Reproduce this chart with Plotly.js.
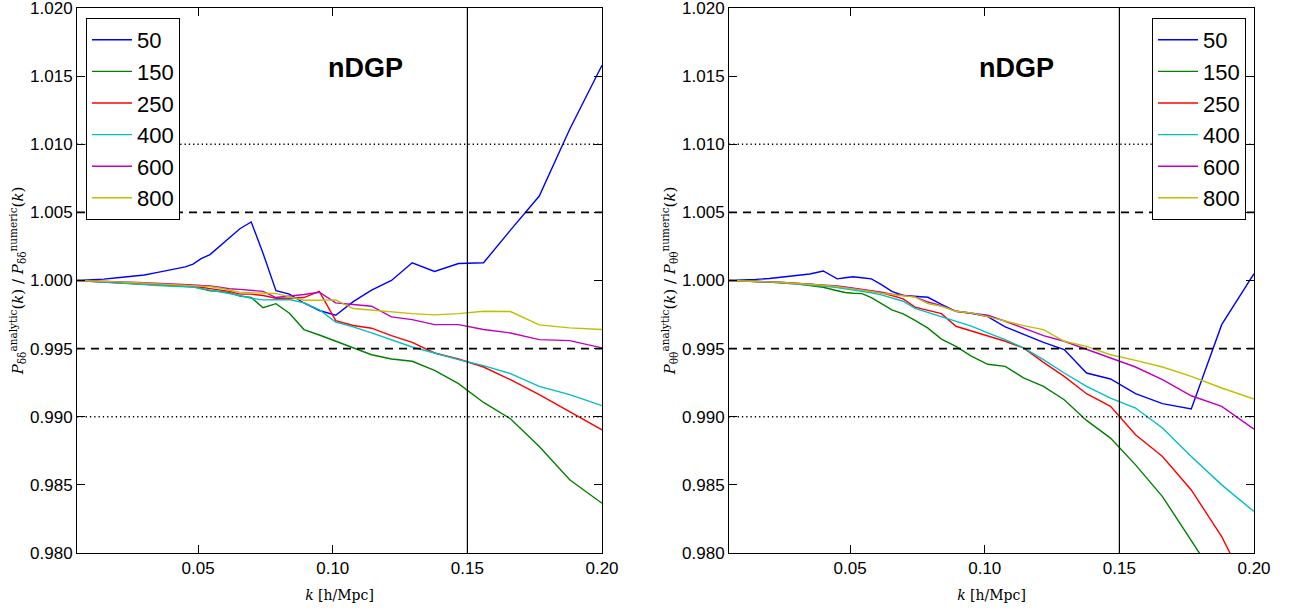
<!DOCTYPE html>
<html>
<head>
<meta charset="utf-8">
<script src="https://cdn.plot.ly/plotly-3.0.1.min.js"></script>
<style>html,body{margin:0;padding:0;background:#fff;}#chart{width:1297px;height:615px;}</style>
</head>
<body>
<div id="chart"></div>
<script>
// k grid [h/Mpc]
const kValues = [0.005, 0.010, 0.015, 0.020, 0.025, 0.030, 0.035, 0.040, 0.0452, 0.0481, 0.0511, 0.0544, 0.0579, 0.0616, 0.0655, 0.0697, 0.0741, 0.0789, 0.0839, 0.0893, 0.0950, 0.1011, 0.1076, 0.1144, 0.1218, 0.1295, 0.1378, 0.1467, 0.1560, 0.1660, 0.1767, 0.1880, 0.2000];

const seriesNames = ["50", "150", "250", "400", "600", "800"];
const seriesColors = ["#0000ff", "#008000", "#ff0000", "#00bfbf", "#bf00bf", "#bfbf00"];

// Left panel: P_dd analytic / numeric
const dd50  = [1.0, 1.00004, 1.0001, 1.0002, 1.0003, 1.0004, 1.0006, 1.0008, 1.0010, 1.0012, 1.0016, 1.0019, 1.0025, 1.0032, 1.0038, 1.0043, 1.0020, 0.99925, 0.9990, 0.99835, 0.9978, 0.99745, 0.99845, 0.9993, 1.0000, 1.0013, 1.00066, 1.00125, 1.0013, 1.0037, 1.0062, 1.0111, 1.0158];
const dd150 = [1.0, 0.99995, 0.9999, 0.99985, 0.9998, 0.99975, 0.9997, 0.99965, 0.9996, 0.99955, 0.9994, 0.99925, 0.9992, 0.9991, 0.99885, 0.99875, 0.9980, 0.9983, 0.9976, 0.9964, 0.9960, 0.99555, 0.9951, 0.99455, 0.99424, 0.99407, 0.9934, 0.99243, 0.99105, 0.98985, 0.98782, 0.98537, 0.98365];
const dd250 = [1.0, 0.99995, 0.9999, 0.99985, 0.9998, 0.99975, 0.9997, 0.99965, 0.9996, 0.99958, 0.9995, 0.9994, 0.9993, 0.9992, 0.9990, 0.9990, 0.9989, 0.9987, 0.9987, 0.99875, 0.9992, 0.99705, 0.9967, 0.9965, 0.99596, 0.99546, 0.99468, 0.99424, 0.99365, 0.99272, 0.99162, 0.99039, 0.98904];
const dd400 = [1.0, 0.99995, 0.9999, 0.99985, 0.99978, 0.9997, 0.99963, 0.99958, 0.99955, 0.99952, 0.9994, 0.9993, 0.9992, 0.99905, 0.9989, 0.9987, 0.99858, 0.99858, 0.9986, 0.99836, 0.99785, 0.99695, 0.9966, 0.99615, 0.99566, 0.99512, 0.99468, 0.99419, 0.99375, 0.99316, 0.99223, 0.99162, 0.99081];
const dd600 = [1.0, 0.99998, 0.99995, 0.9999, 0.99987, 0.99983, 0.9998, 0.99976, 0.9997, 0.99968, 0.99963, 0.9996, 0.9995, 0.9994, 0.99935, 0.9993, 0.9992, 0.99875, 0.99885, 0.99897, 0.99914, 0.99836, 0.99824, 0.99811, 0.99733, 0.99713, 0.99676, 0.99676, 0.9964, 0.99615, 0.99566, 0.99559, 0.99505];
const dd800 = [1.0, 0.99998, 0.99995, 0.9999, 0.99985, 0.9998, 0.99975, 0.9997, 0.99965, 0.99962, 0.9996, 0.99955, 0.99945, 0.9993, 0.99915, 0.9991, 0.9991, 0.99905, 0.9988, 0.99855, 0.99855, 0.99858, 0.99794, 0.99782, 0.99767, 0.99757, 0.99748, 0.99757, 0.99774, 0.99772, 0.99674, 0.99652, 0.9964];

// Right panel: P_tt analytic / numeric
const tt50  = [1.0, 1.00003, 1.00008, 1.00015, 1.00025, 1.00035, 1.00048, 1.0007, 1.00012, 1.0002, 1.00027, 1.0002, 1.00012, 0.9997, 0.9992, 0.9989, 0.99883, 0.99877, 0.99824, 0.99774, 0.9976, 0.99735, 0.9966, 0.99603, 0.99546, 0.99493, 0.99321, 0.99277, 0.99169, 0.99096, 0.99057, 0.99676, 1.0005];
const tt150 = [1.0, 0.99998, 0.99993, 0.99988, 0.99982, 0.99975, 0.99962, 0.9995, 0.99925, 0.99912, 0.99906, 0.99904, 0.99875, 0.9983, 0.99785, 0.99755, 0.99708, 0.9965, 0.9957, 0.99517, 0.99445, 0.99385, 0.9937, 0.99285, 0.99223, 0.99125, 0.98973, 0.98843, 0.98647, 0.98414, 0.98087, 0.9775, 0.9735];
const tt250 = [1.0, 0.99998, 0.99995, 0.9999, 0.99985, 0.9998, 0.99972, 0.99963, 0.99955, 0.99948, 0.9994, 0.99932, 0.99922, 0.9991, 0.9989, 0.99865, 0.99805, 0.9978, 0.99757, 0.99664, 0.9963, 0.99595, 0.99554, 0.99505, 0.99399, 0.99296, 0.99169, 0.99076, 0.98868, 0.98708, 0.98463, 0.9812, 0.9765];
const tt400 = [1.0, 0.99998, 0.99994, 0.99988, 0.99982, 0.99975, 0.99968, 0.9996, 0.99948, 0.9994, 0.9993, 0.99922, 0.9991, 0.99895, 0.99875, 0.99848, 0.99795, 0.99765, 0.99738, 0.99701, 0.99665, 0.99615, 0.99566, 0.99505, 0.99419, 0.99321, 0.99223, 0.99137, 0.99064, 0.98917, 0.98708, 0.985, 0.98304];
const tt600 = [1.0, 0.99998, 0.99995, 0.9999, 0.99985, 0.9998, 0.99974, 0.99968, 0.9996, 0.99952, 0.99945, 0.99936, 0.99926, 0.99914, 0.999, 0.99893, 0.9988, 0.99842, 0.99815, 0.99774, 0.99762, 0.99745, 0.99701, 0.99652, 0.99596, 0.99554, 0.99493, 0.99432, 0.99365, 0.99272, 0.99154, 0.99076, 0.98909];
const tt800 = [1.0, 0.99998, 0.99994, 0.9999, 0.99985, 0.99979, 0.99972, 0.99965, 0.99955, 0.99948, 0.9994, 0.99932, 0.9992, 0.99906, 0.99897, 0.9989, 0.99878, 0.99831, 0.99811, 0.99774, 0.99762, 0.99735, 0.99703, 0.99669, 0.9964, 0.99554, 0.99517, 0.99455, 0.99414, 0.99365, 0.99296, 0.99211, 0.9913];

const ddSeries = [dd50, dd150, dd250, dd400, dd600, dd800];
const ttSeries = [tt50, tt150, tt250, tt400, tt600, tt800];

const xTickVals = [0.05, 0.10, 0.15, 0.20];
const yTickVals = [0.980, 0.985, 0.990, 0.995, 1.000, 1.005, 1.010, 1.015, 1.020];
const panelLabel = "nDGP";
const kCut = 0.15;
const dashedLevels = [1.005, 0.995];
const dottedLevels = [1.010, 0.990];

const traces = [];
ddSeries.forEach((ys, i) => {
  traces.push({x: kValues, y: ys, type: 'scatter', mode: 'lines', name: seriesNames[i],
    line: {color: seriesColors[i], width: 1.4}, xaxis: 'x', yaxis: 'y', legend: 'legend'});
});
ttSeries.forEach((ys, i) => {
  traces.push({x: kValues, y: ys, type: 'scatter', mode: 'lines', name: seriesNames[i],
    line: {color: seriesColors[i], width: 1.4}, xaxis: 'x2', yaxis: 'y2', legend: 'legend2'});
});

const narrow = 'Liberation Sans Narrow, Liberation Sans, Arial, sans-serif';
const tickFont = {family: narrow, size: 17, color: '#000'};
function xAxis(domain, anchor) {
  return {domain: domain, anchor: anchor, range: [0.005, 0.2], tickvals: xTickVals, tickformat: '.2f',
    ticks: 'inside', ticklen: 8, tickwidth: 1, tickcolor: '#000', showline: true, linecolor: '#000', linewidth: 1,
    mirror: 'ticks', showgrid: false, zeroline: false, tickfont: tickFont, ticklabeloverflow: 'allow',
    title: {text: '<i>k</i> [h/Mpc]', font: {family: 'DejaVu Serif, serif', size: 14, color: '#000'}, standoff: 12}};
}
function yAxis(anchor, label) {
  return {anchor: anchor, domain: [0, 1], range: [0.980, 1.020], tickvals: yTickVals, tickformat: '.3f',
    ticks: 'inside', ticklen: 8, tickwidth: 1, tickcolor: '#000', showline: true, linecolor: '#000', linewidth: 1,
    mirror: 'ticks', showgrid: false, zeroline: false, tickfont: tickFont, ticklabeloverflow: 'allow',
    title: {text: label, font: {family: 'DejaVu Serif, serif', size: 15, color: '#000'}, standoff: 2}};
}

const shapes = [];
[['x', 'y'], ['x2', 'y2']].forEach(([xr, yr]) => {
  dashedLevels.forEach(v => shapes.push({type: 'line', xref: xr + ' domain', yref: yr, x0: 0, x1: 1, y0: v, y1: v,
    line: {color: '#000', width: 1.6, dash: '8px,6px'}}));
  dottedLevels.forEach(v => shapes.push({type: 'line', xref: xr + ' domain', yref: yr, x0: 0, x1: 1, y0: v, y1: v,
    line: {color: '#000', width: 1.3, dash: '1.3px,3px'}}));
  shapes.push({type: 'line', xref: xr, yref: yr + ' domain', x0: kCut, x1: kCut, y0: 0, y1: 1,
    line: {color: '#000', width: 1.2}});
});

const legendBase = {bgcolor: '#fff', bordercolor: '#000', borderwidth: 1,
  font: {family: narrow, size: 22, color: '#000'},
  xanchor: 'left', yanchor: 'top', itemwidth: 40, tracegroupgap: 0};

const layout = {
  width: 1297, height: 615,
  margin: {l: 0, r: 0, t: 8, b: 62},
  paper_bgcolor: '#fff', plot_bgcolor: '#fff',
  showlegend: true,
  xaxis: xAxis([77/1297, 602/1297], 'y'),
  yaxis: yAxis('x', '<i>P</i><sub>δδ</sub><sup>analytic</sup>(<i>k</i>) / <i>P</i><sub>δδ</sub><sup>numeric</sup>(<i>k</i>)'),
  xaxis2: xAxis([729/1297, 1254/1297], 'y2'),
  yaxis2: yAxis('x2', '<i>P</i><sub>θθ</sub><sup>analytic</sup>(<i>k</i>) / <i>P</i><sub>θθ</sub><sup>numeric</sup>(<i>k</i>)'),
  legend: Object.assign({}, legendBase, {x: 86/1297, y: 1 - 10/545}),
  legend2: Object.assign({}, legendBase, {x: 1152/1297, y: 1 - 10/545}),
  shapes: shapes,
  annotations: [
    {text: '<b>' + panelLabel + '</b>', xref: 'x domain', yref: 'y domain', x: (365-77)/525, y: (553-68)/545,
      xanchor: 'center', yanchor: 'middle',
      showarrow: false, font: {family: narrow, size: 27, color: '#000'}},
    {text: '<b>' + panelLabel + '</b>', xref: 'x2 domain', yref: 'y2 domain', x: (1016-729)/525, y: (553-68)/545,
      xanchor: 'center', yanchor: 'middle',
      showarrow: false, font: {family: narrow, size: 27, color: '#000'}}
  ]
};

Plotly.newPlot('chart', traces, layout, {staticPlot: true, displayModeBar: false});
</script>
</body>
</html>
